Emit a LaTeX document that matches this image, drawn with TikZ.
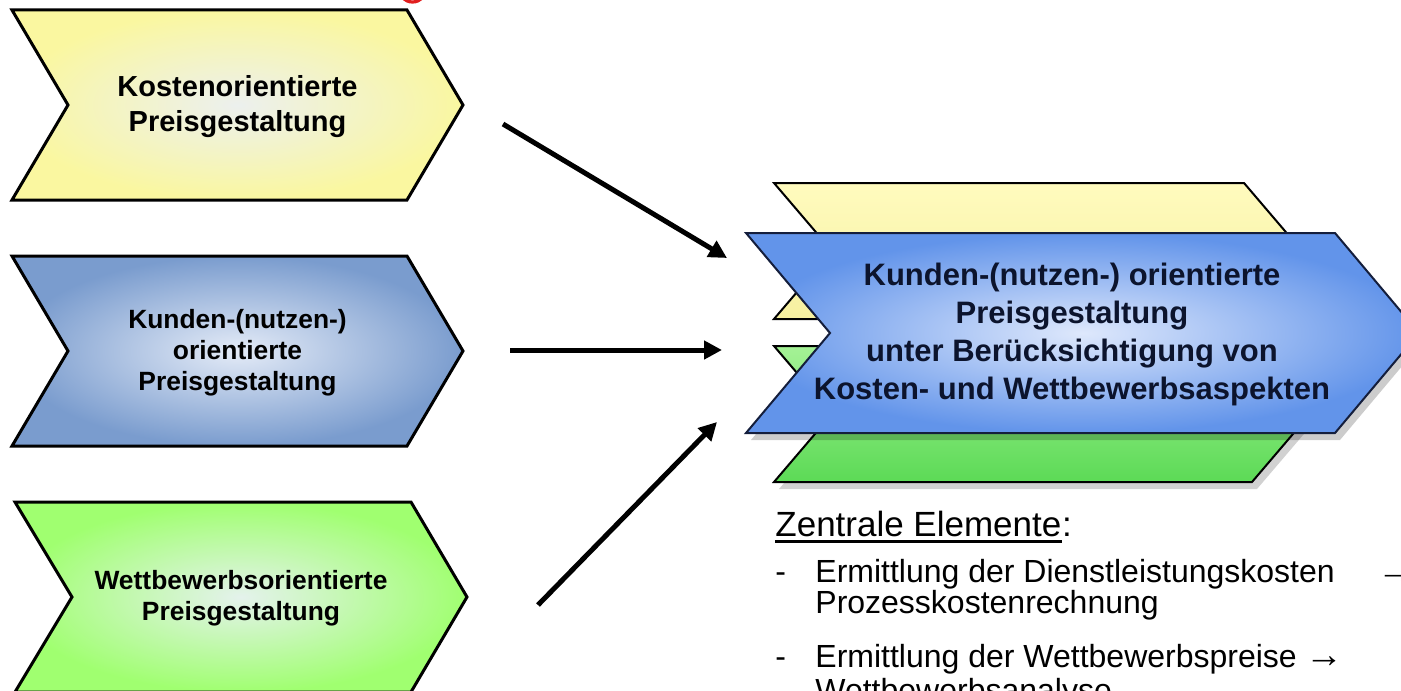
\documentclass[tikz,border=0pt]{standalone}
\usepackage{fontspec}
\setmainfont{Liberation Sans}
\usetikzlibrary{arrows.meta}

\definecolor{kyout}{RGB}{250,247,160}
\definecolor{kyin}{RGB}{236,240,238}
\definecolor{kbout}{RGB}{122,156,206}
\definecolor{kbin}{RGB}{228,235,247}
\definecolor{kgout}{RGB}{160,255,112}
\definecolor{kgin}{RGB}{228,242,236}
\definecolor{mainout}{RGB}{98,148,234}
\definecolor{mainin}{RGB}{222,232,252}
\definecolor{mainline}{RGB}{20,30,60}
\definecolor{maintext}{RGB}{12,20,45}
\definecolor{backyt}{RGB}{255,251,190}
\definecolor{backyb}{RGB}{246,240,160}
\definecolor{backgt}{RGB}{165,242,150}
\definecolor{backgb}{RGB}{92,218,86}
\definecolor{markred}{RGB}{225,30,30}

\tikzset{
  chevbox/.style={draw=black, line width=1.5pt, line join=miter},
  backbox/.style={draw=black, line width=1pt, line join=miter},
  chevtext/.style={align=center, inner sep=0pt, text=black},
  flow/.style={line width=2.5pt, -{Triangle[length=9pt,width=9pt]}},
  listtext/.style={anchor=base west, inner sep=0pt, font=\fontsize{16}{16}\selectfont},
  headtext/.style={anchor=base west, inner sep=0pt, font=\fontsize{17.5}{17.5}\selectfont}
}

\begin{document}
\begin{tikzpicture}[x=0.5pt,y=-0.5pt]
\useasboundingbox (0,0) rectangle (1401,690);

% red mark at the top edge
\draw[markred, line width=1.6pt] (412.5,-12) circle[radius=14];

% three input chevrons
\shadedraw[chevbox, inner color=kyin, outer color=kyout]
  (12,10) -- (407,10) -- (463,105) -- (407,200) -- (12,200) -- (68,105) -- cycle;
\node[chevtext, font=\bfseries\fontsize{14.5}{17.5}\selectfont] (cost) at (237.5,107)
  {Kostenorientierte\\Preisgestaltung};

\shadedraw[chevbox, inner color=kbin, outer color=kbout]
  (12,256) -- (407,256) -- (463,351) -- (407,446) -- (12,446) -- (68,351) -- cycle;
\node[chevtext, font=\bfseries\fontsize{13.2}{15.5}\selectfont] (cust) at (237.5,353)
  {Kunden-(nutzen-)\\orientierte\\Preisgestaltung};

\shadedraw[chevbox, inner color=kgin, outer color=kgout]
  (15,502) -- (411,502) -- (467,597) -- (411,692) -- (15,692) -- (72,597) -- cycle;
\node[chevtext, font=\bfseries\fontsize{13.2}{15.5}\selectfont] (comp) at (241,598)
  {Wettbewerbsorientierte\\Preisgestaltung};

% stacked result chevron
\fill[black, opacity=0.18] (779,353) -- (1257,353) -- (1315,421) -- (1257,489) -- (779,489) -- (837,421) -- cycle;
\shadedraw[backbox, top color=backgt, bottom color=backgb]
  (774,346) -- (1252,346) -- (1310,414) -- (1252,482) -- (774,482) -- (832,414) -- cycle;
\shadedraw[backbox, top color=backyt, bottom color=backyb]
  (774,183) -- (1244,183) -- (1302,251) -- (1244,319) -- (774,319) -- (832,251) -- cycle;
\fill[black, opacity=0.2] (751,240) -- (1340,240) -- (1424,340) -- (1340,440) -- (751,440) -- (835,340) -- cycle;
\shadedraw[draw=mainline, line width=1pt, line join=miter, inner color=mainin, outer color=mainout]
  (746,233) -- (1335,233) -- (1419,333) -- (1335,433) -- (746,433) -- (830,333) -- cycle;
\node[chevtext, text=maintext, font=\bfseries\fontsize{15.5}{19}\selectfont] (result) at (1072,334)
  {Kunden-(nutzen-) orientierte\\Preisgestaltung\\unter Berücksichtigung von\\Kosten- und Wettbewerbsaspekten};

% arrows into the result
\coordinate (s1) at (503,124);
\coordinate (e1) at (727,258);
\coordinate (s2) at (510,350);
\coordinate (e2) at (722,350);
\coordinate (s3) at (538,605);
\coordinate (e3) at (717,422);
\draw[flow] (s1) -- (e1);
\draw[flow] (s2) -- (e2);
\draw[flow] (s3) -- (e3);

% list of central elements
\node[headtext] (head) at (775,536) {Zentrale Elemente};
\node[headtext] (colon) at (head.base east) {:};
\draw[line width=1.5pt] ([yshift=-2.6pt]head.base west) -- ([yshift=-2.6pt]head.base east);
\node[listtext] (d1) at (775,582) {-};
\node[listtext] (l1) at (815,582) {Ermittlung der Dienstleistungskosten};
\node[listtext, font=\fontsize{19}{19}\selectfont] (a1) at (1377,582) {→};
\node[listtext] (l2) at (815,613) {Prozesskostenrechnung};
\node[listtext] (d2) at (775,667) {-};
\node[listtext] (l3) at (815,667) {Ermittlung der Wettbewerbspreise {\fontsize{19}{19}\selectfont →}};
\node[listtext] (l4) at (815,701) {Wettbewerbsanalyse};
\end{tikzpicture}
\end{document}
